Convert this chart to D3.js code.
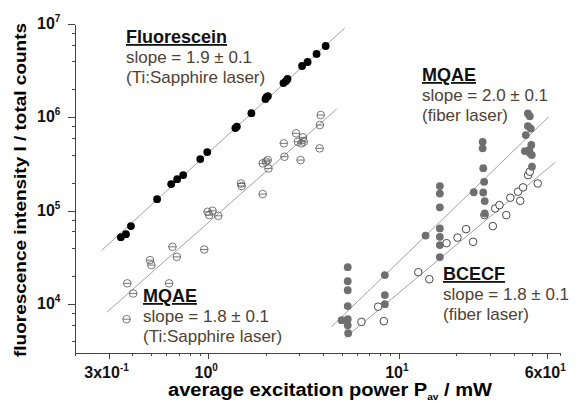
<!DOCTYPE html>
<html>
<head>
<meta charset="utf-8">
<script src="https://cdn.jsdelivr.net/npm/d3@7"></script>
<style>
  body { margin: 0; background: #fff; }
  svg { display: block; font-family: Arial, "Liberation Sans", sans-serif; }
  .axis path, .axis line { stroke: #444; shape-rendering: crispEdges; }
  .note { font-size: 17px; fill: #4f4232; }
  .head { font-size: 18px; font-weight: bold; fill: #111; text-decoration: underline; }
  .tick-label { font-size: 16px; font-weight: bold; fill: #111; }
</style>
</head>
<body>
<svg width="577" height="402"></svg>
<script>
// Fluorescein, Ti:Sapphire laser (filled black)
const fluorX = [0.348,0.370,0.393,0.539,0.639,0.687,0.739,0.908,0.988,1.387,1.413,1.684,1.995,2.02,2.056,2.48,2.558,2.605,3.105,3.32,3.70,4.13]
const fluorY = [52200,56200,68500,133000,193000,218000,241000,358000,425000,769000,798000,1.11e6,1.57e6,1.65e6,1.69e6,2.33e6,2.45e6,2.58e6,3.55e6,3.92e6,4.78e6,5.81e6]

// MQAE, Ti:Sapphire laser (open, barred)
const mqaeTiX = [0.373,0.376,0.404,0.495,0.503,0.623,0.649,0.684,0.953,0.992,1.012,1.053,1.129,1.486,1.497,1.93,1.93,2.01,2.05,2.07,2.49,2.51,2.89,2.95,3.14,3.17,3.08,3.05,3.84,3.89,3.85]
const mqaeTiY = [6900,16700,13000,29600,26200,16700,41100,32100,38500,97500,89900,100000,88300,196000,184000,151000,322000,335000,349000,284000,527000,379000,675000,548000,611000,548000,527000,349000,466000,1.06e6,828000]

// MQAE, fiber laser (filled grey)
const mqaeFiberX = [5.39,5.39,5.39,5.39,5.01,5.39,5.39,5.42,8.44,8.44,8.44,13.8,16.4,16.4,16.4,16.4,16.4,16.4,16.4,24.7,27.5,27.5,27.7,28.0,27.7,28.2,28.2,47.5,48.6,47.5,49.2,46.3,49.5,48.3,45.8,48.7,49.8,49.9]
const mqaeFiberY = [24900,17600,14100,9530,6740,6900,5960,4890,20500,12500,10000,54200,184000,153000,109000,64700,52600,42900,31900,158000,548000,466000,286000,204000,157000,127000,93700,1.10e6,1.03e6,807000,759000,647000,506000,447000,436000,412000,395000,296000]

// BCECF, fiber laser (open)
const bcecfX = [6.36,8.34,7.78,12.64,14.44,17.78,20.3,22.5,24.5,28.1,31.1,32.0,33.7,36.6,38.4,42.2,43.3,44.8,47.6,48.6,53.5]
const bcecfY = [6460,6580,9400,22000,18500,45000,51600,63600,46500,89900,68500,106000,115000,89900,138000,160000,128000,178000,241000,262000,196000]

// fit lines, end points
const fluorFit = [[0.277, 37900], [5.2, 9.06e6]]
const mqaeTiFit = [[0.294, 8210], [4.72, 1.228e6]]
const mqaeFiberFit = [[4.42, 5710], [61.1, 1.016e6]]
const bcecfFit = [[5.20, 4330], [66.2, 332000]]

const xMajor = [[0.3, '3x10', '-1'], [1, '10', '0'], [10, '10', '1'], [60, '6x10', '1']]
const yMajor = [[1e4, '4'], [1e5, '5'], [1e6, '6'], [1e7, '7']]

const svg = d3.select('svg')
const x = d3.scaleLog().domain([0.2, 70]).range([75, 560])
const y = d3.scaleLog().domain([3000, 1e7]).range([353, 24])

// minor ticks at 2..9 (x) and 2,4,6,8 (y)
const xMinor = []
;[0.1, 1, 10].forEach((d) => { for (let k = 2; k <= 9; k++) { const v = d * k; if (v >= 0.2 && v <= 70 && v !== 0.3 && v !== 60) xMinor.push(v) } })
const yMinor = []
;[1e3, 1e4, 1e5, 1e6].forEach((d) => { [2, 4, 6, 8].forEach((k) => { const v = d * k; if (v >= 3000 && v <= 1e7) yMinor.push(v) }) })

svg.append('g').attr('class', 'axis').attr('transform', 'translate(0,353)')
  .call(d3.axisBottom(x).tickValues(xMinor).tickSize(3).tickFormat('').tickSizeOuter(0))
svg.append('g').attr('class', 'axis').attr('transform', 'translate(0,353)')
  .call(d3.axisBottom(x).tickValues(xMajor.map((d) => d[0])).tickSize(6).tickFormat('').tickSizeOuter(0))
svg.append('g').attr('class', 'axis').attr('transform', 'translate(75,0)')
  .call(d3.axisLeft(y).tickValues(yMinor).tickSize(3).tickFormat('').tickSizeOuter(0))
svg.append('g').attr('class', 'axis').attr('transform', 'translate(75,0)')
  .call(d3.axisLeft(y).tickValues(yMajor.map((d) => d[0])).tickSize(7).tickFormat('').tickSizeOuter(0))

// tick labels with superscripts
xMajor.forEach((d) => {
  const t = svg.append('text').attr('class', 'tick-label')
    .attr('x', x(d[0]) - 2).attr('y', 378).attr('text-anchor', 'middle')
  t.append('tspan').text(d[1])
  t.append('tspan').attr('dy', -7).style('font-size', '10px').text(d[2])
})
yMajor.forEach((d) => {
  const t = svg.append('text').attr('class', 'tick-label')
    .attr('x', 37).attr('y', y(d[0]) + 5)
  t.append('tspan').text('10')
  t.append('tspan').attr('dy', -7).style('font-size', '10px').text(d[1])
})

// axis titles
svg.append('text')
  .attr('transform', 'translate(26,190) rotate(-90)')
  .attr('text-anchor', 'middle')
  .attr('textLength', 334).attr('lengthAdjust', 'spacingAndGlyphs')
  .style('font-size', '17px').style('font-weight', 'bold')
  .text('fluorescence intensity I / total counts')
const xt = svg.append('text')
  .attr('x', 168).attr('y', 396)
  .attr('textLength', 324).attr('lengthAdjust', 'spacingAndGlyphs')
  .style('font-size', '18px').style('font-weight', 'bold')
xt.append('tspan').text('average excitation power P')
xt.append('tspan').attr('dy', 4).style('font-size', '9px').text('av')
xt.append('tspan').attr('dy', -4).text(' / mW')

// fit lines
const line = d3.line().x((d) => x(d[0])).y((d) => y(d[1]))
;[fluorFit, mqaeTiFit, mqaeFiberFit, bcecfFit].forEach((f) => {
  svg.append('path').datum(f).attr('d', line)
    .attr('fill', 'none').attr('stroke', '#8a8a8a').attr('stroke-width', 0.8)
})

function pts(xs, ys) { return xs.map((v, i) => [v, ys[i]]) }

// MQAE Ti:Sapphire, open circle with bar
const ti = svg.append('g').selectAll('g').data(pts(mqaeTiX, mqaeTiY)).enter().append('g')
  .attr('transform', (d) => `translate(${x(d[0])},${y(d[1])})`)
ti.append('circle').attr('r', 3.8).attr('fill', 'none').attr('stroke', '#555').attr('stroke-width', 0.8)
ti.append('line').attr('x1', -3.8).attr('x2', 3.8).attr('stroke', '#555').attr('stroke-width', 0.8)

// BCECF fiber, open circles
svg.append('g').selectAll('circle').data(pts(bcecfX, bcecfY)).enter().append('circle')
  .attr('cx', (d) => x(d[0])).attr('cy', (d) => y(d[1])).attr('r', 3.8)
  .attr('fill', '#fff').attr('stroke', '#333').attr('stroke-width', 0.9)

// MQAE fiber, grey dots
svg.append('g').selectAll('circle').data(pts(mqaeFiberX, mqaeFiberY)).enter().append('circle')
  .attr('cx', (d) => x(d[0])).attr('cy', (d) => y(d[1])).attr('r', 3.9)
  .attr('fill', '#6f6f6f')

// Fluorescein, black dots
svg.append('g').selectAll('circle').data(pts(fluorX, fluorY)).enter().append('circle')
  .attr('cx', (d) => x(d[0])).attr('cy', (d) => y(d[1])).attr('r', 3.9)
  .attr('fill', '#000')

// annotations
function note(left, top, head, slope, laser) {
  svg.append('text').attr('class', 'head').attr('x', left).attr('y', top).text(head)
  svg.append('text').attr('class', 'note').attr('x', left).attr('y', top + 20).text(slope)
  svg.append('text').attr('class', 'note').attr('x', left).attr('y', top + 40).text(laser)
}
note(126, 43, 'Fluorescein', 'slope = 1.9 \u00b1 0.1', '(Ti:Sapphire laser)')
note(143, 302, 'MQAE', 'slope = 1.8 \u00b1 0.1', '(Ti:Sapphire laser)')
note(422, 81, 'MQAE', 'slope = 2.0 \u00b1 0.1', '(fiber laser)')
note(443, 280, 'BCECF', 'slope = 1.8 \u00b1 0.1', '(fiber laser)')
</script>
</body>
</html>
